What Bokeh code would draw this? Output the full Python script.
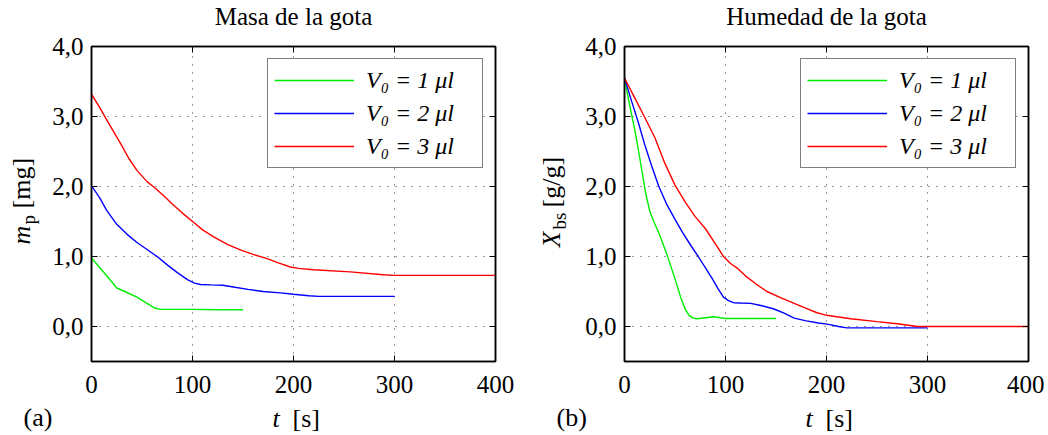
import math
from bokeh.plotting import figure
from bokeh.models import Range1d, FixedTicker, LinearAxis, Label, Legend, LegendItem
from bokeh.layouts import row
from bokeh.embed import file_html
from bokeh.resources import INLINE

# ---------------- data ----------------
series_labels = ["V₀ = 1 μl", "V₀ = 2 μl", "V₀ = 3 μl"]
series_colors = ["#00ee00", "#0000ff", "#ff0000"]

# (a) Masa de la gota  [mg]
t_m1 = [0, 10, 20, 25, 33, 45, 55, 63, 68, 75, 100, 125, 150]
m_1 = [0.98, 0.81, 0.64, 0.55, 0.50, 0.42, 0.33, 0.26, 0.245, 0.245, 0.245, 0.24, 0.24]

t_m2 = [0, 8, 15, 25, 35, 45, 55, 65, 75, 85, 95, 102, 108, 118, 130, 142, 155, 170, 187, 200, 215, 225, 250, 300]
m_2 = [2.01, 1.84, 1.66, 1.46, 1.32, 1.20, 1.10, 1.00, 0.88, 0.77, 0.67, 0.62, 0.60, 0.595, 0.59, 0.56, 0.53,
       0.50, 0.48, 0.46, 0.44, 0.43, 0.43, 0.43]

t_m3 = [0, 8, 15.5, 29, 37, 45, 55, 62, 72, 80, 90, 101, 110, 121, 135, 148, 160, 174, 185, 197, 205, 220,
        256, 289, 300, 350, 400]
m_3 = [3.32, 3.13, 2.94, 2.61, 2.40, 2.23, 2.07, 1.99, 1.86, 1.75, 1.62, 1.49, 1.38, 1.28, 1.17, 1.09, 1.03,
       0.97, 0.91, 0.85, 0.83, 0.81, 0.78, 0.74, 0.73, 0.73, 0.73]

# (b) Humedad de la gota  [g/g]
t_x1 = [0, 5, 11, 16, 21, 25, 29, 35, 42, 50, 56, 60, 64, 68, 72, 80, 88, 95, 100, 125, 150]
x_1 = [3.54, 3.17, 2.75, 2.33, 1.90, 1.65, 1.50, 1.30, 1.03, 0.68, 0.40, 0.25, 0.16, 0.12, 0.11, 0.125,
       0.14, 0.125, 0.115, 0.115, 0.115]

t_x2 = [0, 7, 14, 20, 27, 34, 42, 50, 58, 66, 73, 80, 87, 93, 98, 103, 108, 115, 125, 135, 148, 158, 168,
        180, 192, 202, 212, 220, 250, 300]
x_2 = [3.55, 3.22, 2.90, 2.60, 2.29, 2.00, 1.74, 1.53, 1.33, 1.15, 1.00, 0.84, 0.68, 0.53, 0.42, 0.37, 0.34,
       0.335, 0.33, 0.30, 0.25, 0.19, 0.12, 0.08, 0.05, 0.03, 0.0, -0.02, -0.02, -0.02]

t_x3 = [0, 10, 20, 30, 40, 50, 60, 70, 80, 90, 98, 105, 112, 120, 130, 141, 155, 168, 180, 190, 200, 224,
        250, 270, 290, 300, 400]
x_3 = [3.55, 3.27, 2.99, 2.70, 2.33, 2.02, 1.78, 1.57, 1.40, 1.18, 1.00, 0.90, 0.83, 0.72, 0.61, 0.50, 0.41,
       0.33, 0.26, 0.20, 0.16, 0.11, 0.07, 0.04, 0.0, 0.0, 0.0]

x_ticks = [0, 100, 200, 300, 400]
y_ticks = [0, 1, 2, 3, 4]
y_tick_labels = ["0,0", "1,0", "2,0", "3,0", "4,0"]

FONT = "Liberation Serif"
X0, X1, Y0, Y1 = 0, 400, -0.5, 4.0
FW, FH = 404, 315
TOP, BOTTOM = 46, 72
SHIFT = 0.36   # baseline correction, as a fraction of the font size


def px_to_data(dx, dy):
    """offset in pixels from the frame's bottom-left corner -> data coordinates"""
    return X0 + dx * (X1 - X0) / FW, Y0 + dy * (Y1 - Y0) / FH


def add_text(p, txt, dx, dy, size, style, ang, align="left"):
    # placed in the bottom side panel (so it is not clipped to the frame),
    # positioned through the plot's own scales
    fs = float(size.replace("px", ""))
    if ang == 0.0:
        dy = dy + SHIFT * fs
    else:
        dx = dx - SHIFT * fs
    x, y = px_to_data(dx, dy)
    p.add_layout(Label(x=x, y=y, x_units="data", y_units="data", text=txt,
                       angle=ang, text_font=FONT, text_font_size=size,
                       text_font_style=style, text_color="black",
                       text_align=align, text_baseline="alphabetic"), "below")


def make_panel(title, series, ylabel_parts, panel_tag, left_border, right_border):
    p = figure(width=left_border + FW + right_border, height=TOP + FH + BOTTOM,
               frame_width=FW, frame_height=FH,
               min_border_left=left_border, min_border_right=right_border,
               min_border_top=TOP, min_border_bottom=BOTTOM,
               x_range=Range1d(X0, X1), y_range=Range1d(Y0, Y1),
               output_backend="svg", toolbar_location=None, title_location=None)
    p.background_fill_color = "white"
    p.border_fill_color = "white"
    p.outline_line_color = "black"
    p.outline_line_width = 1.5

    bottom = p.below[0]
    left = p.left[0]
    top = LinearAxis()
    right = LinearAxis()
    p.add_layout(top, "above")
    p.add_layout(right, "right")

    for ax in [bottom, left, top, right]:
        ax.axis_line_color = "black"
        ax.axis_line_width = 1.5
        ax.major_tick_in = 6
        ax.major_tick_out = 0
        ax.major_tick_line_color = "black"
        ax.major_tick_line_width = 1
        ax.minor_tick_line_color = None
        ax.major_label_text_font = FONT
        ax.major_label_text_font_size = "25px"
        ax.major_label_text_color = "black"
        ax.major_label_standoff = 8
    bottom.major_label_standoff = 14
    for ax in [bottom, top]:
        ax.ticker = FixedTicker(ticks=x_ticks)
    for ax in [left, right]:
        ax.ticker = FixedTicker(ticks=y_ticks)
        ax.major_label_overrides = {k: v for k, v in zip(y_ticks, y_tick_labels)}
    top.major_label_overrides = {k: "" for k in x_ticks}
    right.major_label_overrides = {k: "" for k in y_ticks}
    for ax in [top, right]:
        ax.major_label_text_font_size = "1px"
        ax.major_label_standoff = 0

    p.xgrid.ticker = FixedTicker(ticks=x_ticks)
    p.ygrid.ticker = FixedTicker(ticks=y_ticks)
    for g in [p.xgrid[0], p.ygrid[0]]:
        g.grid_line_color = "#222222"
        g.grid_line_width = 1
        g.grid_line_dash = "1 7"
        g.grid_line_alpha = 0.9

    items = []
    for (tt, yy), lab, col in zip(series, series_labels, series_colors):
        r = p.line(tt, yy, line_color=col, line_width=1.4)
        items.append(LegendItem(label=lab, renderers=[r]))

    leg = Legend(items=items, location="top_right", margin=12,
                 padding=6, spacing=3, glyph_width=80, glyph_height=30,
                 label_height=30, label_width=110, label_standoff=12,
                 label_text_font=FONT, label_text_font_size="24px",
                 label_text_font_style="italic", label_text_color="black",
                 border_line_color="black", border_line_width=1.5,
                 background_fill_color="white", background_fill_alpha=1.0)
    p.add_layout(leg)

    # title, axis labels (italic symbol + subscript + units) and panel tag
    add_text(p, title, FW / 2, 336, "25px", "normal", 0.0, align="center")
    for part in ylabel_parts:
        add_text(p, *part)
    add_text(p, "t", 181, -66, "26px", "italic", 0.0)
    add_text(p, "[s]", 201, -66, "26px", "normal", 0.0)
    add_text(p, panel_tag, -68, -65, "26px", "normal", 0.0)
    return p


rot = math.pi / 2
p1 = make_panel("Masa de la gota",
                [(t_m1, m_1), (t_m2, m_2), (t_m3, m_3)],
                [("m", -61, 117, "26px", "italic", rot),
                 ("p", -56, 137, "19px", "normal", rot),
                 ("[mg]", -61, 153, "26px", "normal", rot)],
                "(a)", 91, 33)
p2 = make_panel("Humedad de la gota",
                [(t_x1, x_1), (t_x2, x_2), (t_x3, x_3)],
                [("X", -64, 114, "26px", "italic", rot),
                 ("bs", -58, 132, "19px", "normal", rot),
                 ("[g/g]", -64, 154, "26px", "normal", rot)],
                "(b)", 96, 16)

layout = row(p1, p2)
open("out.html", "w").write(file_html(layout, INLINE))
